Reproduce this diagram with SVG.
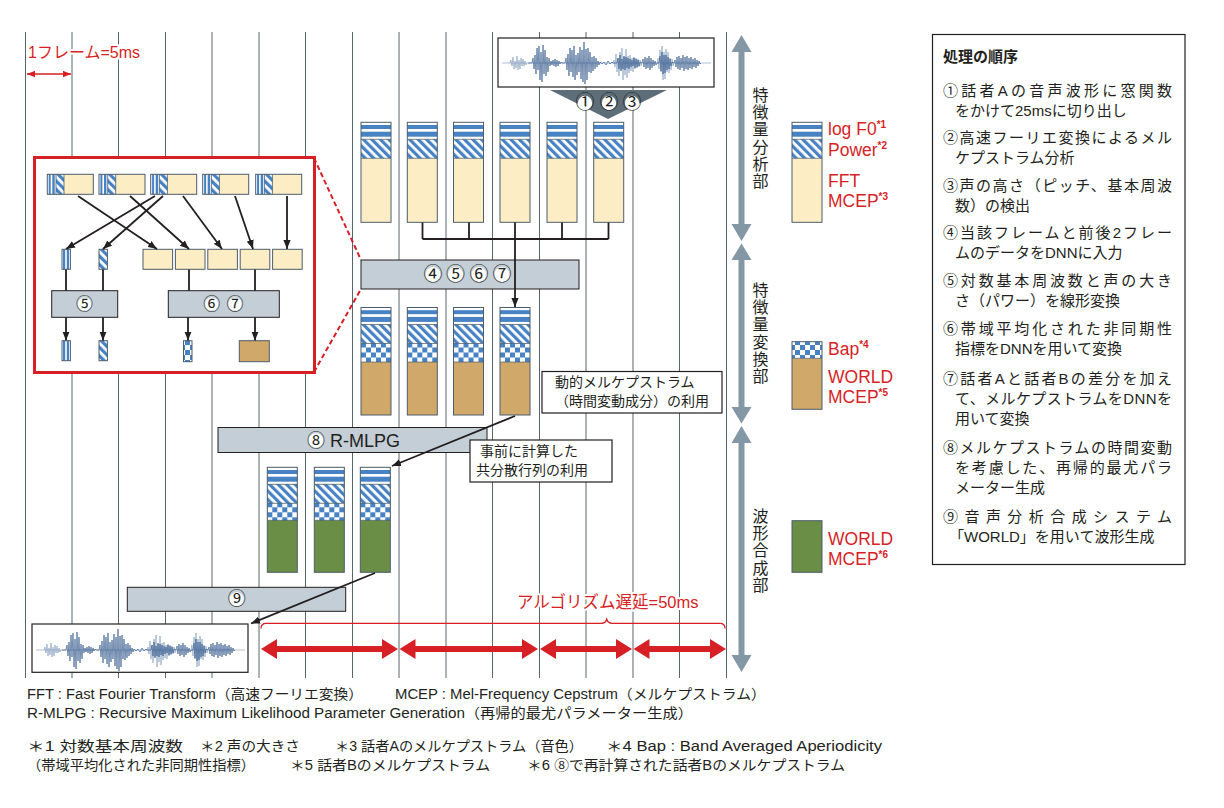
<svg xmlns="http://www.w3.org/2000/svg" xmlns:xlink="http://www.w3.org/1999/xlink" width="1224" height="808" viewBox="0 0 1224 808">
<style>
.grid{stroke:#56666e;stroke-width:1}
.t{font-family:"Liberation Sans","Noto Sans CJK JP",sans-serif;fill:#231f20}
.cj{font-family:"Noto Sans CJK JP",sans-serif;fill:#231f20}
.red{fill:#d71f26}
.halo{stroke:#fff;stroke-width:4;paint-order:stroke;stroke-linejoin:round}
.gbox{fill:#c3ced6;stroke:#231f20;stroke-width:1}
.wbox{fill:#fff;stroke:#231f20;stroke-width:1.2}
.bd{fill:none;stroke:#4d5d6b;stroke-width:1}
.conn{stroke:#231f20;stroke-width:1.8;fill:none}
.cw{fill:#fff}
.lg{font-family:"Liberation Sans",sans-serif;font-size:17.5px;fill:#d71f26}
.sup{font-size:10px;font-weight:bold}
.pn{font-family:"Liberation Sans","Noto Sans CJK JP",sans-serif;font-size:15px;fill:#231f20}
.ft{font-family:"Liberation Sans","Noto Sans CJK JP",sans-serif;font-size:14px;fill:#231f20}
.vt{font-family:"Noto Sans CJK JP",sans-serif;font-size:16px;fill:#231f20;writing-mode:vertical-rl;letter-spacing:1.2px}
.gar{fill:#8497a4}
.wl{fill:none;stroke:#8ea5c3;stroke-width:0.7}
.wd{fill:none;stroke:#3b5e8f;stroke-width:0.7}
</style>
<defs>
<pattern id="hatch" width="6" height="6" patternUnits="userSpaceOnUse" patternTransform="rotate(-45)"><rect width="6" height="6" fill="#fff"/><rect width="3.2" height="6" fill="#4682c4"/></pattern>
<pattern id="chk" width="10" height="10" patternUnits="userSpaceOnUse"><rect width="10" height="10" fill="#4682c4"/><rect width="5" height="5" fill="#fff"/><rect x="5" y="5" width="5" height="5" fill="#fff"/></pattern>
<marker id="ah" viewBox="0 0 10 8" refX="10" refY="4" markerWidth="9" markerHeight="7.5" markerUnits="userSpaceOnUse" orient="auto"><path d="M0,0 L10,4 L0,8 z" fill="#231f20"/></marker>
<marker id="rh" viewBox="0 0 10 8" refX="10" refY="4" markerWidth="8" markerHeight="7" markerUnits="userSpaceOnUse" orient="auto-start-reverse"><path d="M0,0 L10,4 L0,8 z" fill="#d71f26"/></marker>
<g id="hstr"><rect width="30" height="17" fill="#fff"/><rect y="2.7" width="30" height="4" fill="#4682c4"/><rect y="9.4" width="30" height="5" fill="#4682c4"/></g>
<g id="colA"><rect width="30" height="100" fill="#fdedc5"/><use href="#hstr"/><rect y="17" width="30" height="19" fill="url(#hatch)"/><path d="M0 17H30M0 36H30" stroke="#4d5d6b" stroke-width="0.7"/><rect width="30" height="100" class="bd"/></g>
<g id="colB"><rect width="30" height="107.5" fill="#d0a86a"/><use href="#hstr"/><rect y="17" width="30" height="19" fill="url(#hatch)"/><rect y="36" width="30" height="18.5" fill="url(#chk)"/><path d="M0 17H30M0 36H30M0 54.5H30" stroke="#4d5d6b" stroke-width="0.7"/><rect width="30" height="107.5" class="bd"/></g>
<g id="colC"><rect width="30" height="105" fill="#6b8e46"/><use href="#hstr"/><rect y="17" width="30" height="19" fill="url(#hatch)"/><rect y="36" width="30" height="17" fill="url(#chk)"/><path d="M0 17H30M0 36H30M0 53H30" stroke="#4d5d6b" stroke-width="0.7"/><rect width="30" height="105" class="bd"/></g>
<g id="ifr"><rect width="46" height="20" fill="#fdedc5"/><rect width="8.7" height="20" fill="#fff"/><rect x="1.4" width="2" height="20" fill="#4682c4"/><rect x="5" width="2.4" height="20" fill="#4682c4"/><rect x="8.7" width="8" height="20" fill="url(#hatch)"/><path d="M8.7 0V20M16.7 0V20" stroke="#4d5d6b" stroke-width="0.8"/><rect width="46" height="20" class="bd"/></g>
<g id="ivs"><rect width="8.4" height="20" fill="#fff"/><rect x="1" width="2.2" height="20" fill="#4682c4"/><rect x="4.8" width="2.3" height="20" fill="#4682c4"/><rect width="8.4" height="20" class="bd"/></g>
<g id="iht"><rect width="8.4" height="20" fill="url(#hatch)"/><rect width="8.4" height="20" class="bd"/></g>
<g id="wave">
<path class="wl" d="M502 63H711"/>
<polyline class="wl" points="510,63 511,60 512,66 513,57 514,69 515,61 516,68 517,56 518,70 519,60 520,69 521,58 522,66 523,59 524,66 525,61 526,65 527,63"/>
<polyline class="wl" points="613,63 614,60 615,67 616,54 617,72 618,58 619,76 620,52 621,70 622,48 623,80 624,57 625,75 626,49 627,78 628,56 629,73 630,55 631,71 632,58 633,72 634,57 635,69 636,58 637,68 638,59 639,67 640,60 641,66 642,63"/>
<polyline class="wl" points="657,63 658,58 659,69 660,50 661,72 662,46 663,80 664,52 665,79 666,49 667,72 668,52 669,73 670,58 671,70 672,59 673,66 674,63"/>
<polyline class="wd" points="528,63 532,63 533,58 534,69 535,55 536,74 537,48 538,70 539,46 540,80 541,52 542,82 543,45 544,74 545,50 546,76 547,57 548,72 549,58 550,66 551,61 552,65 553,60 554,66 555,59 556,67 557,60 558,66 559,61 560,64 561,62 562,63 565,63 566,58 567,70 568,54 569,76 570,48 571,72 572,50 573,77 574,46 575,80 576,55 577,75 578,53 579,72 580,47 581,79 582,50 583,82 584,42 585,84 586,49 587,80 588,48 589,72 590,52 591,73 592,57 593,71 594,56 595,69 596,58 597,67 598,61 599,65 600,62 602,64 604,62 606,65 608,61 610,64 612,62 613,63 617,63 618,58 619,69 620,55 621,71 622,59 623,69 624,56 625,70 626,57 627,68 628,58 629,69 630,59 631,67 632,60 633,66 634,58 635,68 636,59 637,67 638,60 639,66 640,62 642,63 643,59 644,67 645,57 646,69 647,58 648,68 649,56 650,70 651,58 652,68 653,60 654,66 655,61 656,65 657,63 659,63 660,56 661,71 662,52 663,74 664,55 665,73 666,55 667,70 668,57 669,69 670,59 671,66 672,62 674,63 675,60 676,67 677,57 678,69 679,56 680,70 681,58 682,68 683,55 684,71 685,57 686,69 687,56 688,70 689,58 690,68 691,57 692,69 693,59 694,67 695,58 696,68 697,60 698,66 699,61 700,64 701,63"/>
</g>
</defs>
<rect width="1224" height="808" fill="#fff"/>

<g id="grid" class="grid">
<path d="M25.5 32V678M72 32V678M118.5 32V678M165.5 32V678M212 32V678M259 32V678M305.5 32V678M352.5 32V678M399 32V678M446 32V678M492.5 32V678M539.5 32V678M586 32V678M633 32V678M679.5 32V678M726.5 32V678"/>
</g>

<g id="frame-scale">
<text class="t red halo" x="28" y="58" font-size="16">1フレーム=5ms</text>
<line x1="27" y1="74" x2="71" y2="74" stroke="#d71f26" stroke-width="1.4" marker-start="url(#rh)" marker-end="url(#rh)"/>
</g>

<g id="wave-in">
<rect x="498" y="38" width="216" height="49" class="wbox"/>
<use href="#wave"/>
</g>

<g id="analysis-step">
<polygon points="550,90 667,90 608,119" fill="#5e6e78"/>
<circle cx="585" cy="103" r="7.2" class="cw"/><circle cx="609" cy="103" r="7.2" class="cw"/><circle cx="632" cy="103" r="7.2" class="cw"/>
<text class="cj" x="585" y="109.3" font-size="19" text-anchor="middle">①</text>
<text class="cj" x="609" y="109.3" font-size="19" text-anchor="middle">②</text>
<text class="cj" x="632" y="109.3" font-size="19" text-anchor="middle">③</text>
</g>

<g id="frames-analysis">
<use href="#colA" x="361" y="122.3"/><use href="#colA" x="407.3" y="122.3"/><use href="#colA" x="453.5" y="122.3"/><use href="#colA" x="500" y="122.3"/><use href="#colA" x="547" y="122.3"/><use href="#colA" x="593.7" y="122.3"/>
</g>

<g id="dnn-box">
<rect x="361" y="260" width="218" height="29" class="gbox"/>
<circle cx="433" cy="274.5" r="7.4" class="cw"/><circle cx="455.5" cy="274.5" r="7.4" class="cw"/><circle cx="479" cy="274.5" r="7.4" class="cw"/><circle cx="502" cy="274.5" r="7.4" class="cw"/>
<text class="cj" x="433" y="280.8" font-size="19" text-anchor="middle">④</text>
<text class="cj" x="455.5" y="280.8" font-size="19" text-anchor="middle">⑤</text>
<text class="cj" x="479" y="280.8" font-size="19" text-anchor="middle">⑥</text>
<text class="cj" x="502" y="280.8" font-size="19" text-anchor="middle">⑦</text>
</g>

<g id="frames-converted">
<use href="#colB" x="361" y="307.5"/><use href="#colB" x="407.3" y="307.5"/><use href="#colB" x="453.5" y="307.5"/><use href="#colB" x="500" y="307.5"/>
</g>

<g id="note-dynamic">
<rect x="542" y="371.5" width="180" height="41.5" class="wbox"/>
<text class="t" x="555" y="387" font-size="14">動的メルケプストラム</text>
<text class="t" x="555" y="406" font-size="14" textLength="154" lengthAdjust="spacingAndGlyphs">（時間変動成分）の利用</text>
</g>

<g id="rmlpg">
<rect x="218" y="427.5" width="269" height="25" class="gbox"/>
<circle cx="316" cy="440.5" r="7.2" class="cw"/>
<text class="t" x="307" y="447" font-size="18">⑧ R-MLPG</text>
</g>

<g id="note-cov">
<rect x="470" y="440" width="142" height="42" class="wbox"/>
<text class="t" x="480" y="456" font-size="14">事前に計算した</text>
<text class="t" x="476" y="475" font-size="14">共分散行列の利用</text>
</g>

<g id="frames-synth">
<use href="#colC" x="267.3" y="467.3"/><use href="#colC" x="314.3" y="467.3"/><use href="#colC" x="360.3" y="467.3"/>
</g>

<g id="synth-box">
<rect x="127.3" y="587.3" width="218.4" height="24" class="gbox"/>
<circle cx="236.7" cy="599.3" r="7" class="cw"/>
<text class="cj" x="236.7" y="605.3" font-size="18" text-anchor="middle">⑨</text>
</g>

<g id="wave-out">
<rect x="32" y="624" width="216" height="48.3" class="wbox"/>
<use href="#wave" transform="translate(-466,587)"/>
</g>

<g id="latency">
<path d="M261 628.5Q261 623.3 266 623.3H601.5Q605.5 623.3 606.7 619.3Q608 623.3 612 623.3H720Q725 623.3 725 628.5" fill="none" stroke="#d71f26" stroke-width="1.3"/>
<text class="t red halo" x="517" y="608" font-size="16.5">アルゴリズム遅延=50ms</text>
<g fill="#d71f26">
<polygon points="261,649 277,639 277,646 382,646 382,639 398,649 382,659 382,652 277,652 277,659"/>
<polygon points="399.5,649 415.5,639 415.5,646 522,646 522,639 538,649 522,659 522,652 415.5,652 415.5,659"/>
<polygon points="540,649 556,639 556,646 616,646 616,639 632,649 616,659 616,652 556,652 556,659"/>
<polygon points="633.5,649 649.5,639 649.5,646 710,646 710,639 726,649 710,659 710,652 649.5,652 649.5,659"/>
</g>
</g>

<g id="inset">
<rect x="34.5" y="157.5" width="280" height="215" fill="#fff" stroke="#d71f26" stroke-width="3"/>
<use href="#ifr" x="47.3" y="174.3"/><use href="#ifr" x="99" y="174.3"/><use href="#ifr" x="150.7" y="174.3"/><use href="#ifr" x="202.7" y="174.3"/><use href="#ifr" x="255.7" y="174.3"/>
<use href="#ivs" x="62" y="249.3"/><use href="#iht" x="99" y="249.3"/>
<g fill="#fdedc5" stroke="#4d5d6b" stroke-width="1">
<rect x="143" y="249.3" width="29.6" height="20"/><rect x="175.4" y="249.3" width="29.6" height="20"/><rect x="207.8" y="249.3" width="29.6" height="20"/><rect x="240.2" y="249.3" width="29.6" height="20"/><rect x="272.6" y="249.3" width="29.6" height="20"/>
</g>
<rect x="51.7" y="290.7" width="66" height="26.6" class="gbox"/>
<rect x="168.3" y="290.7" width="111" height="26.6" class="gbox"/>
<circle cx="84.5" cy="304" r="6.6" class="cw"/><circle cx="211.7" cy="304" r="6.6" class="cw"/><circle cx="235" cy="304" r="6.6" class="cw"/>
<text class="cj" x="84.5" y="309.8" font-size="17" text-anchor="middle">⑤</text>
<text class="cj" x="211.7" y="309.8" font-size="17" text-anchor="middle">⑥</text>
<text class="cj" x="235" y="309.8" font-size="17" text-anchor="middle">⑦</text>
<use href="#ivs" x="62" y="340.7"/><use href="#iht" x="99" y="340.7"/>
<rect x="183.5" y="340.7" width="8.5" height="21" fill="url(#chk)" stroke="#4d5d6b"/>
<rect x="239.3" y="340.7" width="30" height="21" fill="#d0a86a" stroke="#4d5d6b"/>
<g class="conn" stroke-width="1.6">
<line x1="78" y1="196" x2="157" y2="249" marker-end="url(#ah)"/>
<line x1="130" y1="196" x2="189" y2="249" marker-end="url(#ah)"/>
<line x1="155" y1="196" x2="66" y2="249" marker-end="url(#ah)"/>
<line x1="163" y1="196" x2="103" y2="249" marker-end="url(#ah)"/>
<line x1="183" y1="196" x2="222" y2="249" marker-end="url(#ah)"/>
<line x1="235" y1="196" x2="253" y2="249" marker-end="url(#ah)"/>
<line x1="287" y1="196" x2="287" y2="249" marker-end="url(#ah)"/>
<path d="M66 269.5V290.7M103 269.5V290.7M189 269.5V290.7M255 269.5V290.7"/>
<line x1="66" y1="317.3" x2="66" y2="340.5" marker-end="url(#ah)"/>
<line x1="103" y1="317.3" x2="103" y2="340.5" marker-end="url(#ah)"/>
<line x1="188" y1="317.3" x2="188" y2="340.5" marker-end="url(#ah)"/>
<line x1="255" y1="317.3" x2="255" y2="340.5" marker-end="url(#ah)"/>
</g>
</g>

<g id="connectors">
<path class="conn" d="M422.5 222.5V239M469 222.5V239M562 222.5V239M608.5 222.5V239M422.5 239H608.5"/>
<line class="conn" x1="515" y1="222.5" x2="515" y2="307" marker-end="url(#ah)"/>
<line class="conn" x1="515" y1="416" x2="392" y2="466" marker-end="url(#ah)"/>
<line class="conn" x1="375" y1="573" x2="251" y2="623.5" marker-end="url(#ah)"/>
<path d="M314 158L361 260M314 372L361 289" fill="none" stroke="#d71f26" stroke-width="2" stroke-dasharray="5 3"/>
</g>

<g id="stage-arrows">
<polygon class="gar" points="741.5,35 751.5,52 744.5,52 744.5,224 751.5,224 741.5,241 731.5,224 738.5,224 738.5,52 731.5,52"/>
<polygon class="gar" points="741.5,243.5 751.5,260 744.5,260 744.5,407 751.5,407 741.5,423.5 731.5,407 738.5,407 738.5,260 731.5,260"/>
<polygon class="gar" points="741.5,426 751.5,443 744.5,443 744.5,655 751.5,655 741.5,672 731.5,655 738.5,655 738.5,443 731.5,443"/>
<text class="vt" x="760.5" y="87">特徴量分析部</text>
<text class="vt" x="760.5" y="282">特徴量変換部</text>
<text class="vt" x="760.5" y="508">波形合成部</text>
</g>

<g id="legend">
<use href="#colA" x="792" y="122.3"/>
<text class="lg" x="828" y="135">log F0<tspan class="sup" dy="-7">*1</tspan></text>
<text class="lg" x="828" y="156">Power<tspan class="sup" dy="-7">*2</tspan></text>
<text class="lg" x="828" y="187">FFT</text>
<text class="lg" x="828" y="207">MCEP<tspan class="sup" dy="-7">*3</tspan></text>
<rect x="792" y="341.7" width="30" height="16.6" fill="url(#chk)"/>
<rect x="792" y="358.3" width="30" height="51" fill="#d0a86a"/>
<rect x="792" y="341.7" width="30" height="67.6" class="bd"/>
<path d="M792 358.3H822" stroke="#4d5d6b" stroke-width="0.7"/>
<text class="lg" x="828" y="355">Bap<tspan class="sup" dy="-7">*4</tspan></text>
<text class="lg" x="828" y="383">WORLD</text>
<text class="lg" x="828" y="403">MCEP<tspan class="sup" dy="-7">*5</tspan></text>
<rect x="792" y="520.7" width="30" height="51.6" fill="#6b8e46" stroke="#4d5d6b"/>
<text class="lg" x="828" y="545">WORLD</text>
<text class="lg" x="828" y="565">MCEP<tspan class="sup" dy="-7">*6</tspan></text>
</g>

<g id="steps-panel">
<rect x="932.5" y="34.5" width="252.5" height="530" fill="#fff" stroke="#231f20" stroke-width="1.2"/>
<text class="pn" x="943" y="61.5" font-weight="bold">処理の順序</text>
<text class="pn" x="943" y="95.5" textLength="229" lengthAdjust="spacing">①話者Aの音声波形に窓関数</text>
<text class="pn" x="955" y="115.5">をかけて25msに切り出し</text>
<text class="pn" x="943" y="143" textLength="229" lengthAdjust="spacing">②高速フーリエ変換によるメル</text>
<text class="pn" x="955" y="163">ケプストラム分析</text>
<text class="pn" x="943" y="190.5" textLength="229" lengthAdjust="spacing">③声の高さ（ピッチ、基本周波</text>
<text class="pn" x="955" y="210.5">数）の検出</text>
<text class="pn" x="943" y="238" textLength="229" lengthAdjust="spacing">④当該フレームと前後2フレー</text>
<text class="pn" x="955" y="258">ムのデータをDNNに入力</text>
<text class="pn" x="943" y="285.5" textLength="229" lengthAdjust="spacing">⑤対数基本周波数と声の大き</text>
<text class="pn" x="955" y="305.5">さ（パワー）を線形変換</text>
<text class="pn" x="943" y="333.5" textLength="229" lengthAdjust="spacing">⑥帯域平均化された非同期性</text>
<text class="pn" x="955" y="353.5">指標をDNNを用いて変換</text>
<text class="pn" x="943" y="383.5" textLength="229" lengthAdjust="spacing">⑦話者Aと話者Bの差分を加え</text>
<text class="pn" x="955" y="403.5" textLength="217" lengthAdjust="spacing">て、メルケプストラムをDNNを</text>
<text class="pn" x="955" y="423.5">用いて変換</text>
<text class="pn" x="943" y="452.5" textLength="229" lengthAdjust="spacing">⑧メルケプストラムの時間変動</text>
<text class="pn" x="955" y="472.5" textLength="217" lengthAdjust="spacing">を考慮した、再帰的最尤パラ</text>
<text class="pn" x="955" y="492.5">メーター生成</text>
<text class="pn" x="943" y="521.5" textLength="229" lengthAdjust="spacing">⑨音声分析合成システム</text>
<text class="pn" x="949" y="541.5">「WORLD」を用いて波形生成</text>
</g>

<g id="footnotes">
<text class="ft" x="27" y="699" textLength="336" lengthAdjust="spacingAndGlyphs">FFT : Fast Fourier Transform（高速フーリエ変換）</text>
<text class="ft" x="395" y="699" textLength="371" lengthAdjust="spacingAndGlyphs">MCEP : Mel-Frequency Cepstrum（メルケプストラム）</text>
<text class="ft" x="27" y="718" textLength="666" lengthAdjust="spacingAndGlyphs">R-MLPG : Recursive Maximum Likelihood Parameter Generation（再帰的最尤パラメーター生成）</text>
<text class="ft" x="27" y="751" textLength="156" lengthAdjust="spacingAndGlyphs">＊1 対数基本周波数</text>
<text class="ft" x="200" y="751" textLength="100" lengthAdjust="spacingAndGlyphs">＊2 声の大きさ</text>
<text class="ft" x="335" y="751" textLength="248" lengthAdjust="spacingAndGlyphs">＊3 話者Aのメルケプストラム（音色）</text>
<text class="ft" x="606" y="751" textLength="276" lengthAdjust="spacingAndGlyphs">＊4 Bap : Band Averaged Aperiodicity</text>
<text class="ft" x="27" y="770" textLength="228" lengthAdjust="spacingAndGlyphs">（帯域平均化された非同期性指標）</text>
<text class="ft" x="290" y="770" textLength="200" lengthAdjust="spacingAndGlyphs">＊5 話者Bのメルケプストラム</text>
<text class="ft" x="527" y="770" textLength="318" lengthAdjust="spacingAndGlyphs">＊6 ⑧で再計算された話者Bのメルケプストラム</text>
</g>
</svg>
